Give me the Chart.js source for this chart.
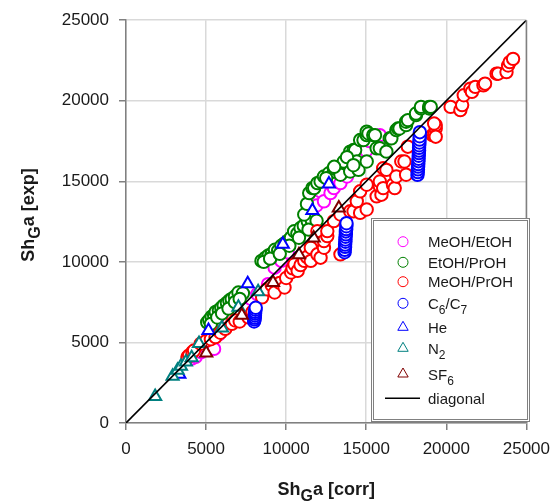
<!DOCTYPE html>
<html><head><meta charset="utf-8">
<script src="https://cdn.jsdelivr.net/npm/chart.js@4/dist/chart.umd.min.js"></script>
<style>html,body{margin:0;padding:0;background:#fff;}#wrap{width:559px;height:504px;position:relative;}</style>
</head><body><div id="wrap"><canvas id="c" width="559" height="504"></canvas></div>
<script>
// ---------- data ----------
const axisTicks = [0, 5000, 10000, 15000, 20000, 25000];
const xTitle = "Sh_Ga [corr]";
const yTitle = "Sh_Ga [exp]";
const seriesNames = ["MeOH/EtOH", "EtOH/PrOH", "MeOH/PrOH", "C_6/C_7", "He", "N_2", "SF_6", "diagonal"];

const meohEtohX = [4100,4350,4700,5000,5300,5500,5800,6100,6400,6700,7000,7400,7800,8200,8560,8870,9280,9700,10100,10500,11030,11540,11900,12150,12360,12770,12980,13390,13800,14400,15000,15200,15850];
const meohEtohY = [4000,4100,4400,4700,5000,4600,5500,6050,6200,6500,6900,7300,7700,8000,8100,8620,9640,10060,10600,11500,12110,13140,13500,14380,13760,14270,14580,14890,15300,16000,16900,17500,17870];

const etohProhX = [5070,5200,5350,5500,5600,5800,5950,6100,6300,6450,6600,6800,7020,7300,5300,5700,6000,6400,6800,7100,
  8460,8700,8900,9100,9300,9500,9700,9900,10100,10300,10500,10700,10900,11100,11350,11600,11900,8600,9000,9600,10200,10800,11400,
  11130,11300,11440,11640,11750,11950,12150,12360,12670,12980,12980,13180,13390,13600,14000,14000,14210,14310,14410,14520,
  14620,14830,15030,15030,15030,15140,15440,15550,15650,15850,16260,16470,16570,16880,16980,17080,17490,17490,17600,18110,
  18110,18420,18420,18930,18930,19030,13800,12500,13000,14200];
const etohProhY = [6250,6400,6600,6700,6900,7000,7150,7300,7450,7600,7700,7850,8100,8050,6150,6550,6800,7100,7500,7700,
  10060,10250,10400,10500,10750,10700,11000,11150,11300,11500,11900,11750,12100,12250,12500,12600,12550,10000,10200,10500,11000,11500,12000,
  12940,13600,14270,14580,14580,14890,14990,15300,15500,15610,15810,15810,15410,16230,16840,15610,16940,16940,16230,15710,
  17560,17560,17870,18080,16230,17970,17870,17870,17050,17050,16840,17670,17670,18180,18280,18280,18490,18700,18800,19110,
  19210,19520,19620,19520,19620,19620,16500,15200,15900,16000];

const meohProhX = [3840,3940,4150,4250,4660,5000,5300,5590,5900,6200,6610,6820,7100,7640,7900,8500,8800,9100,9280,9600,
  9900,10000,10310,10400,10520,10720,10900,11130,11300,11540,11540,11950,11950,12150,12360,12360,12570,12570,12980,13390,
  13390,14000,14210,14410,14620,14620,15030,15030,15650,15850,15850,15950,16060,16060,16260,16670,16780,16880,17190,17390,
  17490,17600,19140,19240,19340,19340,19340,19240,20270,20880,20990,21090,21500,21600,21810,22320,22420,23140,23240,23760,
  23860,23960,24170];
const meohProhY = [4090,4200,4400,4500,4920,5100,5200,5330,5600,5840,6150,6360,6300,6560,6900,7800,8300,8550,8100,8700,
  8410,9000,9340,9600,9850,9440,9800,10060,10300,10060,10880,10470,11910,10260,10880,11290,11600,11910,12530,10470,
  12940,13140,13140,13760,13040,14380,13250,14790,14070,14690,14990,14170,14580,15810,15710,14790,14580,15300,16230,16230,
  15410,17150,17870,17870,18280,18490,17770,18590,19620,19420,19730,20340,20750,20550,20860,20960,21060,21680,21680,21780,
  22190,22400,22600];

const c6c7X = [8000,8020,8040,8050,8060,8060,8080,8100,
  13650,13660,13680,13680,13700,13700,13710,13730,13730,13750,13760,13770,
  18200,18220,18230,18240,18250,18260,18270,18280,18290,18300,18300,18310,18320,18330,18340,18350];
const c6c7Y = [6300,6430,6540,6670,6790,6900,7030,7150,
  10600,10750,10930,11070,11250,11390,11560,11710,11890,12030,12210,12400,
  15400,15570,15740,15910,16070,16250,16400,16590,16750,16910,17080,17240,17410,17590,17800,18050];

const heX = [3330,5150,7600,9790,11640,12670];
const heY = [3020,5740,8650,11090,13190,14830];

const n2X = [1820,2910,3220,3430,3740,4100,4560,5990,7020,8250];
const n2Y = [1650,2900,3270,3520,3780,4050,4930,5900,7180,8150];

const sf6X = [5010,7230,9180,10800,11720,13290];
const sf6Y = [4340,6690,8720,10450,11480,13340];

const diagX = [0, 25000];
const diagY = [0, 25000];

// ---------- styles ----------
const FONT = "'Liberation Sans', Arial, sans-serif";
const colors = ['#ff00ff', '#008000', '#ff0000', '#0000ff', '#0000ff', '#008080', '#800000', '#000000'];
const shapes = ['circle', 'circle', 'circle', 'circle', 'triangle', 'triangle', 'triangle', 'line'];

const pts = (xs, ys) => xs.map((x, i) => ({x: x, y: ys[i]}));

function mk(i, xs, ys, order) {
  const tri = shapes[i] === 'triangle';
  return {
    label: seriesNames[i], data: pts(xs, ys), order: order,
    pointStyle: shapes[i], pointRadius: tri ? 7 : 6.2, pointHoverRadius: tri ? 7 : 6.2,
    borderColor: colors[i], backgroundColor: '#ffffff', pointBorderWidth: 2, showLine: false
  };
}

const datasets = [
  mk(0, meohEtohX, meohEtohY, 7),
  mk(1, etohProhX, etohProhY, 6),
  mk(2, meohProhX, meohProhY, 5),
  mk(3, c6c7X, c6c7Y, 4),
  mk(4, heX, heY, 3),
  mk(5, n2X, n2Y, 2),
  mk(6, sf6X, sf6Y, 1),
  {label: seriesNames[7], data: pts(diagX, diagY), order: 0, showLine: true, pointRadius: 0,
   borderColor: '#000000', borderWidth: 1.6, backgroundColor: '#000000'}
];

function parseRich(s) {
  const out = []; const re = /_(\w)/g; let last = 0, m;
  while ((m = re.exec(s)) !== null) {
    if (m.index > last) out.push({t: s.slice(last, m.index), sub: false});
    out.push({t: m[1], sub: true}); last = re.lastIndex;
  }
  if (last < s.length) out.push({t: s.slice(last), sub: false});
  return out;
}
function richWidth(ctx, parts, font, subFont) {
  let w = 0;
  parts.forEach(p => { ctx.font = p.sub ? subFont : font; w += ctx.measureText(p.t).width; });
  return w;
}
function drawRich(ctx, parts, x, y, font, subFont, dy) {
  ctx.textAlign = 'left'; ctx.textBaseline = 'alphabetic';
  parts.forEach(p => {
    ctx.font = p.sub ? subFont : font;
    ctx.fillText(p.t, x, y + (p.sub ? dy : 0));
    x += ctx.measureText(p.t).width;
  });
}

const decor = {
  id: 'decor',
  afterDraw(chart) {
    const ctx = chart.ctx, a = chart.chartArea;
    ctx.save();
    // right frame
    ctx.strokeStyle = '#808080'; ctx.lineWidth = 1.5;
    ctx.beginPath(); ctx.moveTo(a.right, a.top); ctx.lineTo(a.right, a.bottom); ctx.stroke();
    // axis titles
    ctx.fillStyle = '#1a1a1a';
    const tf = 'bold 18px ' + FONT, tsf = 'bold 16px ' + FONT;
    const xp = parseRich(xTitle);
    const xw = richWidth(ctx, xp, tf, tsf);
    drawRich(ctx, xp, (a.left + a.right) / 2 - xw / 2, 495, tf, tsf, 6);
    const yp = parseRich(yTitle);
    const yw = richWidth(ctx, yp, tf, tsf);
    ctx.save(); ctx.translate(34, 215); ctx.rotate(-Math.PI / 2);
    drawRich(ctx, yp, -yw / 2, 0, tf, tsf, 6);
    ctx.restore();
    // legend
    const L = 371.5, T = 218.5, R = 529.5, B = 421.5;
    ctx.fillStyle = '#ffffff'; ctx.fillRect(L, T, R - L, B - T);
    ctx.strokeStyle = '#808080'; ctx.lineWidth = 1;
    ctx.strokeRect(L, T, R - L, B - T);
    ctx.strokeRect(L + 2, T + 2, R - L - 4, B - T - 4);
    const rows = [241.7, 262.3, 281.7, 303.3, 327.3, 348.3, 374, 398.3];
    const lf = '15px ' + FONT, lsf = '12px ' + FONT;
    seriesNames.forEach((name, i) => {
      const y = rows[i], mx = 403;
      ctx.strokeStyle = colors[i]; ctx.fillStyle = '#ffffff';
      if (shapes[i] === 'line') {
        ctx.lineWidth = 1.6; ctx.beginPath(); ctx.moveTo(385, y); ctx.lineTo(420, y); ctx.stroke();
      } else {
        Chart.helpers.drawPoint(ctx, {pointStyle: shapes[i], radius: shapes[i] === 'circle' ? 5 : 6, borderWidth: 2, rotation: 0}, mx, y);
      }
      ctx.fillStyle = '#1a1a1a';
      drawRich(ctx, parseRich(name), 428, y + 5.5, lf, lsf, 5);
    });
    ctx.restore();
  }
};

const tickFont = {family: FONT, size: 17};
const plainTick = v => String(v);
new Chart(document.getElementById('c'), {
  type: 'scatter',
  data: {datasets: datasets},
  options: {
    responsive: false, animation: false, devicePixelRatio: 1,
    layout: {padding: {left: 0, right: 28, top: 18, bottom: 0}},
    plugins: {legend: {display: false}, tooltip: {enabled: false}},
    scales: {
      x: {
        type: 'linear', min: 0, max: 25000,
        afterBuildTicks: s => { s.ticks = axisTicks.map(v => ({value: v})); },
        afterFit: s => { s.height = 81; },
        ticks: {font: tickFont, color: '#1a1a1a', padding: 9, maxRotation: 0, callback: plainTick},
        grid: {color: '#d9d9d9', lineWidth: 1.5, tickLength: 7, tickColor: '#808080', tickWidth: 1.5},
        border: {color: '#808080', width: 1.5}
      },
      y: {
        type: 'linear', min: 0, max: 25000,
        afterBuildTicks: s => { s.ticks = axisTicks.map(v => ({value: v})); },
        afterFit: s => { s.width = 126; },
        ticks: {font: tickFont, color: '#1a1a1a', padding: 10, callback: plainTick},
        grid: {color: '#d9d9d9', lineWidth: 1.5, tickLength: 7, tickColor: '#808080', tickWidth: 1.5},
        border: {color: '#808080', width: 1.5}
      }
    }
  },
  plugins: [decor]
});
</script></body></html>
